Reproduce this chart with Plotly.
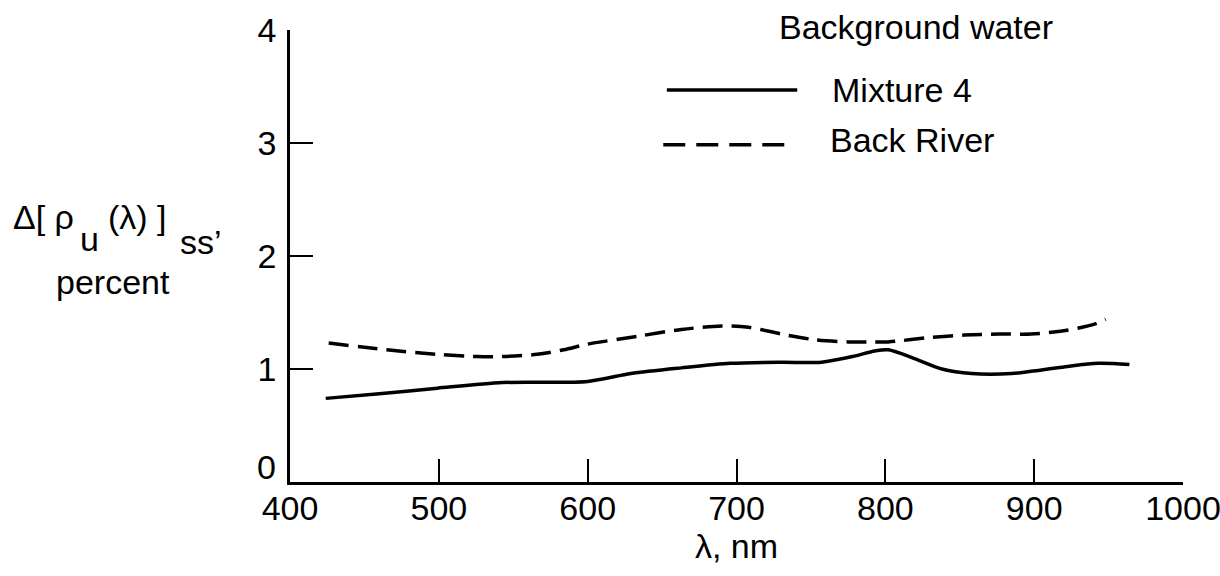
import plotly.graph_objects as go

# Data (wavelength in nm, difference in percent)
mix_x = [424, 460, 499, 543, 600, 629, 663, 696, 730, 757, 778, 793, 802, 820, 838, 858, 885, 898, 921, 943, 964]
mix_y = [0.74, 0.78, 0.83, 0.88, 0.89, 0.96, 1.01, 1.05, 1.06, 1.06, 1.11, 1.16, 1.17, 1.09, 1.00, 0.96, 0.96, 0.98, 1.02, 1.05, 1.04]

back_x = [426, 465, 499, 526, 543, 566, 584, 600, 634, 663, 690, 708, 730, 752, 775, 793, 802, 831, 853, 876, 898, 921, 941, 948]
back_y = [1.23, 1.17, 1.13, 1.11, 1.11, 1.13, 1.17, 1.22, 1.29, 1.35, 1.38, 1.37, 1.31, 1.26, 1.24, 1.24, 1.24, 1.28, 1.30, 1.31, 1.31, 1.34, 1.40, 1.44]

x_ticks = [400, 500, 600, 700, 800, 900, 1000]
y_ticks = [0, 1, 2, 3, 4]

series_names = ["Mixture 4", "Back River"]
legend_title = "Background water"

TXT = "Liberation Sans, Arial, sans-serif"
NUM = "Liberation Sans, Arial, sans-serif"
DASH = "20px,9px"

fig = go.Figure()
fig.add_trace(go.Scatter(x=mix_x, y=mix_y, mode="lines", name=series_names[0],
                         line=dict(color="black", width=3.5, shape="spline", smoothing=0.8),
                         showlegend=False))
fig.add_trace(go.Scatter(x=back_x, y=back_y, mode="lines", name=series_names[1],
                         line=dict(color="black", width=3.5, dash=DASH, shape="spline", smoothing=0.8),
                         showlegend=False))

axis_common = dict(showgrid=False, zeroline=False, showline=True, linecolor="black", linewidth=2.5,
                   ticks="inside", ticklen=23, tickwidth=2, tickcolor="black",
                   ticklabeloverflow="allow", automargin=False,
                   tickfont=dict(family=NUM, size=34, color="black"))

fig.update_xaxes(range=[400, 1000], tickvals=x_ticks, ticktext=[str(v) for v in x_ticks],
                 ticklabelstandoff=-6,
                 title=dict(text="λ, nm", font=dict(family=TXT, size=34, color="black"), standoff=4),
                 **axis_common)
# the "0" label sits raised above the corner in the reference; it is drawn as an annotation below
y_text = ["" if v == 0 else str(v) for v in y_ticks]
fig.update_yaxes(range=[0, 4], tickvals=y_ticks, ticktext=y_text,
                 ticklabelstandoff=4, **axis_common)

ann_font = dict(family=TXT, size=34, color="black")
annotations = [
    dict(text=legend_title, x=0.545, y=1.007, xanchor="left", yanchor="middle"),
    dict(text=series_names[0], x=0.605, y=0.867, xanchor="left", yanchor="middle"),
    dict(text=series_names[1], x=0.602, y=0.757, xanchor="left", yanchor="middle"),
    dict(text="Δ[ ρ", x=-0.312, y=0.586, xanchor="left", yanchor="middle"),
    dict(text="u", x=-0.237, y=0.538, xanchor="left", yanchor="middle"),
    dict(text="(λ) ]", x=-0.206, y=0.586, xanchor="left", yanchor="middle"),
    dict(text="ss’", x=-0.125, y=0.531, xanchor="left", yanchor="middle"),
    dict(text="percent", x=-0.198, y=0.442, xanchor="center", yanchor="middle"),
]
for a in annotations:
    a.update(xref="paper", yref="paper", showarrow=False, font=ann_font)

annotations.append(dict(text=str(y_ticks[0]), xref="paper", yref="y", x=-0.013, y=y_ticks[0],
                        xanchor="right", yanchor="middle", yshift=15, showarrow=False,
                        font=dict(family=NUM, size=34, color="black")))

shapes = [
    dict(type="line", xref="paper", yref="paper", x0=0.422, x1=0.568, y0=0.867, y1=0.867,
         line=dict(color="black", width=3.5)),
    dict(type="line", xref="paper", yref="paper", x0=0.418, x1=0.558, y0=0.746, y1=0.746,
         line=dict(color="black", width=3.5, dash="22px,11px")),
]

fig.update_layout(width=1220, height=576, margin=dict(l=290, r=37, t=30, b=94),
                  paper_bgcolor="white", plot_bgcolor="white",
                  annotations=annotations, shapes=shapes, showlegend=False)

fig.write_html("out.html")
